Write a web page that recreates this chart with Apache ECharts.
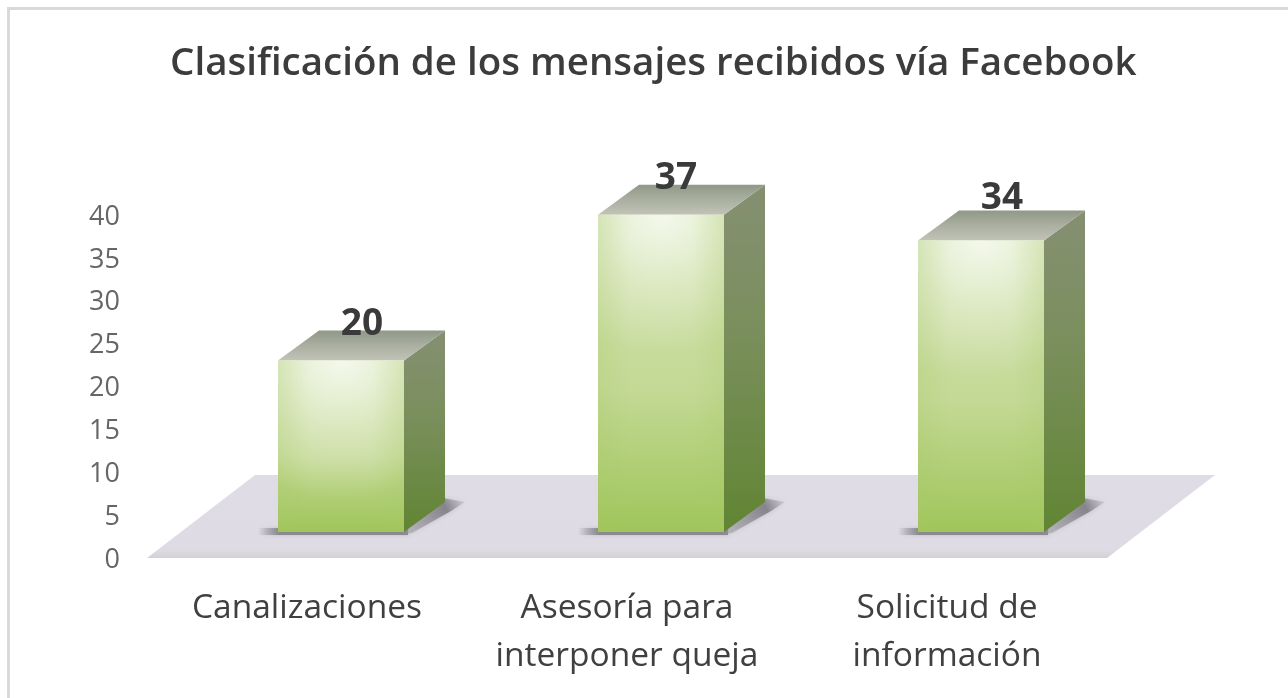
<!DOCTYPE html>
<html>
<head>
<meta charset="utf-8">
<script src="https://cdn.jsdelivr.net/npm/echarts@6/dist/echarts.min.js"></script>
<style>html,body{margin:0;padding:0;background:#fff}#c{width:1288px;height:698px}</style>
</head>
<body>
<div id="c"></div>
<script>
const titleText = 'Clasificación de los mensajes recibidos vía Facebook';
const categories = ['Canalizaciones', 'Asesoría para\ninterponer queja', 'Solicitud de\ninformación'];
const values = [20, 37, 34];
const yTicks = [0, 5, 10, 15, 20, 25, 30, 35, 40];

const FONT = '"Open Sans","Noto Sans",sans-serif';
const BAR_SHIFT = [34, -25];
const DEPTH = [41, -30];
const FLOOR_DEPTH = [108, -83];
const BAR_RATIO = 126 / 320;
const LABEL_NUDGE = [[21, -36], [15, -36], [21, -42]];

const chart = echarts.init(document.getElementById('c'), null, {renderer: 'canvas'});

function linear(x, y, x2, y2, stops) {
  return new echarts.graphic.LinearGradient(x, y, x2, y2, stops.map(s => ({offset: s[0], color: s[1]})));
}
function radial(x, y, r, stops) {
  return new echarts.graphic.RadialGradient(x, y, r, stops.map(s => ({offset: s[0], color: s[1]})));
}

function renderFloor(params, api) {
  const cs = params.coordSys;
  const y0 = api.coord([0, 0])[1] + 1;
  const l = cs.x, r = cs.x + cs.width;
  return {
    type: 'polygon',
    silent: true,
    shape: {points: [[l, y0], [r, y0], [r + FLOOR_DEPTH[0], y0 + FLOOR_DEPTH[1]], [l + FLOOR_DEPTH[0], y0 + FLOOR_DEPTH[1]]]},
    style: {fill: linear(0, 0, 0, 1, [[0, '#dfdce5'], [0.9, '#dedbe4'], [1, '#d3d1d7']])}
  };
}

function renderBar(params, api) {
  const idx = api.value(0);
  const val = api.value(1);
  const w = api.size([1, 0])[0] * BAR_RATIO;
  const top = api.coord([idx, val]);
  const base = api.coord([idx, 0]);
  const x0 = top[0] - w / 2 + BAR_SHIFT[0];
  const x1 = x0 + w;
  const yT = top[1] + BAR_SHIFT[1];
  const yB = base[1] + BAR_SHIFT[1];
  const dx = DEPTH[0], dy = DEPTH[1];
  const nudge = LABEL_NUDGE[idx];
  const children = [];
  // soft shadows on the floor
  children.push({
    type: 'rect',
    shape: {x: x0 - 20, y: yB - 4, width: w + 24, height: 7},
    style: {fill: linear(0, 0, 1, 0, [[0, 'rgba(120,118,125,0)'], [0.14, 'rgba(125,123,130,0.8)'], [1, 'rgba(125,123,130,0.8)']]),
            shadowBlur: 4, shadowColor: 'rgba(120,118,125,0.4)'}
  });
  children.push({
    type: 'polygon',
    shape: {points: [[x1 - 2, yB + 2], [x1 + 8, yB + 1], [x1 + dx + 6, yB + dy + 9], [x1 + dx + 20, yB + dy], [x1 + dx - 2, yB + dy - 4]]},
    style: {fill: linear(0, 1, 1, 0, [[0, 'rgba(150,148,155,0.4)'], [0.7, 'rgba(120,118,125,0.8)'], [1, 'rgba(150,148,155,0.15)']]),
            shadowBlur: 5, shadowColor: 'rgba(120,118,125,0.4)'}
  });
  // side face
  children.push({
    type: 'polygon',
    shape: {points: [[x1, yT], [x1 + dx, yT + dy], [x1 + dx, yB + dy], [x1, yB]]},
    style: {fill: linear(0, 0, 0, 1, [[0, '#858f72'], [0.4, '#7b8f5e'], [1, '#618533']])}
  });
  // top face
  children.push({
    type: 'polygon',
    shape: {points: [[x0, yT], [x1, yT], [x1 + dx, yT + dy], [x0 + dx, yT + dy]]},
    style: {fill: linear(0, 0, 0, 1, [[0, '#8f9986'], [0.55, '#adb1a3'], [1, '#c0c3b6']])}
  });
  // front face base gradient
  children.push({
    type: 'rect',
    shape: {x: x0, y: yT, width: w, height: yB - yT},
    style: {fill: linear(0, 0, 0, 1, [[0, '#d3e3b2'], [0.55, '#c3d995'], [1, '#a0c55a']])}
  });
  // front face highlight
  children.push({
    type: 'rect',
    shape: {x: x0, y: yT, width: w, height: yB - yT},
    style: {fill: radial(0.5, 0, 1.1, [[0, 'rgba(255,255,255,0.75)'], [0.5, 'rgba(255,255,255,0.32)'], [1, 'rgba(255,255,255,0)']])}
  });
  // front face edge tone
  children.push({
    type: 'rect',
    shape: {x: x0, y: yT, width: w, height: yB - yT},
    style: {fill: linear(0, 0, 1, 0, [[0, 'rgba(165,198,100,0.22)'], [0.25, 'rgba(165,198,100,0)'], [0.75, 'rgba(165,198,100,0)'], [1, 'rgba(165,198,100,0.22)']])}
  });
  // data label
  children.push({
    type: 'text',
    style: {
      x: x0 + w / 2 + nudge[0], y: yT + nudge[1],
      text: String(val), align: 'center', verticalAlign: 'middle',
      font: 'bold 37px ' + FONT, fill: '#3a3a3a'
    }
  });
  return {type: 'group', silent: true, children};
}

chart.setOption({
  animation: false,
  backgroundColor: '#fff',
  title: {
    text: titleText,
    left: 165, top: 40,
    textStyle: {fontFamily: FONT, fontSize: 38.5, fontWeight: 600, color: '#3c3c3c'}
  },
  graphic: [
    {type: 'rect', silent: true, shape: {x: 8.5, y: 8.5, width: 1300, height: 800},
     style: {fill: 'transparent', stroke: '#d9d9d9', lineWidth: 3}}
  ],
  grid: {left: 147, right: 181, top: 214, bottom: 141},
  xAxis: {
    type: 'category',
    data: categories,
    axisLine: {show: false},
    axisTick: {show: false},
    axisLabel: {margin: 27, fontFamily: FONT, fontSize: 33.5, lineHeight: 48, color: '#404040', interval: 0}
  },
  yAxis: {
    type: 'value',
    min: yTicks[0],
    max: yTicks[yTicks.length - 1],
    interval: yTicks[1] - yTicks[0],
    axisLine: {show: false},
    axisTick: {show: false},
    splitLine: {show: false},
    axisLabel: {margin: 27, fontFamily: FONT, fontSize: 27, color: '#666666', verticalAlign: 'top', lineHeight: 6}
  },
  series: [
    {type: 'custom', clip: false, z: 1, data: [[0, 0]], renderItem: renderFloor,
     encode: {x: 0, y: 1}},
    {type: 'custom', clip: false, z: 2, data: values.map((v, i) => [i, v]), renderItem: renderBar,
     encode: {x: 0, y: 1}}
  ]
});
</script>
</body>
</html>
